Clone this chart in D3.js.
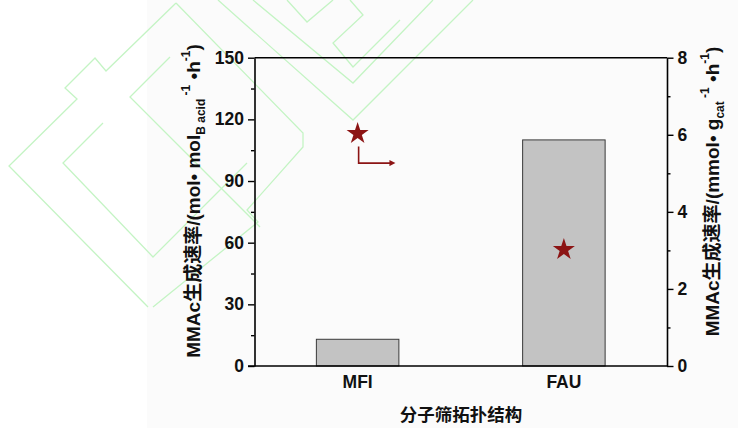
<!DOCTYPE html>
<html>
<head>
<meta charset="utf-8">
<script src="https://cdn.jsdelivr.net/npm/d3@7"></script>
<style>
  html, body { margin: 0; padding: 0; background: #ffffff; }
  svg { display: block; }
  text { font-family: "Liberation Sans", Arial, "Noto Sans CJK SC", sans-serif; font-weight: bold; fill: #111; }
</style>
</head>
<body>
<svg id="chart" width="738" height="428"></svg>
<script>
// Zeolite topology categories and measured MMAc formation rates
const categories = ["MFI", "FAU"];
// rate per mol of Brønsted acid sites (left axis, bars)
const rateAcid = [13, 110];
// rate per gram of catalyst (right axis, stars)
const rateMass = [6.03, 3.02];
const leftTicks = [0, 30, 60, 90, 120, 150];
const rightTicks = [0, 2, 4, 6, 8];

const W = 738, H = 428;
const margin = { left: 254.5, right: W - 667, top: 57.7, bottom: H - 366 };
const svg = d3.select("#chart");

// faint page tint behind the figure
svg.append("rect").attr("x", 147).attr("y", 0).attr("width", W - 147).attr("height", H).attr("fill", "#fbfbfb");

// decorative outline watermark
const wm = svg.append("g").attr("fill", "none").attr("stroke", "#c4f4c4").attr("stroke-width", 1.3).attr("stroke-linejoin", "miter");
const wmPaths = [
  [[176,3],[106,71],[95,58],[65,88],[77,99],[9,166],[148,307]],
  [[176,3],[303,133],[303,147],[247,210],[258,222],[153,307]],
  [[170,57],[130,97],[260,227]],
  [[103,123],[63,163],[153,257],[247,163]],
  [[218,0],[353,120],[473,0]],
  [[253,0],[353,83],[433,0]],
  [[287,0],[307,22],[333,0]],
  [[350,0],[363,15],[333,43],[353,67],[400,20]]
];
wmPaths.forEach(p => wm.append("path").attr("d", d3.line()(p)));

const x = d3.scaleBand().domain(categories)
  .range([margin.left, W - margin.right]).paddingInner(0.6).paddingOuter(0.3);
const yL = d3.scaleLinear().domain([0, 150]).range([H - margin.bottom, margin.top]);
const yR = d3.scaleLinear().domain([0, 8]).range([H - margin.bottom, margin.top]);

// bars
svg.append("g").selectAll("rect").data(categories).join("rect")
  .attr("x", d => x(d))
  .attr("y", (d, i) => yL(rateAcid[i]))
  .attr("width", x.bandwidth())
  .attr("height", (d, i) => yL(0) - yL(rateAcid[i]))
  .attr("fill", "#c3c3c3").attr("stroke", "#3a3a3a").attr("stroke-width", 1);

// axes
const axisStyle = g => {
  g.selectAll("path").attr("stroke", "#000").attr("stroke-width", 1.6);
  g.selectAll("line").attr("stroke", "#000").attr("stroke-width", 1.4);
  g.selectAll("text").attr("font-size", 17.5).attr("font-weight", "bold")
    .attr("font-family", "'Liberation Sans', Arial, sans-serif").attr("fill", "#111");
};

const gL = svg.append("g").attr("transform", `translate(${margin.left},0)`)
  .call(d3.axisLeft(yL).tickValues(leftTicks).tickSize(6.5).tickPadding(4).tickSizeOuter(0));
axisStyle(gL);
svg.append("g").attr("transform", `translate(${margin.left},0)`)
  .call(d3.axisLeft(yL).tickValues(d3.range(15, 150, 30)).tickSize(3.5).tickFormat("").tickSizeOuter(0))
  .call(g => g.select("path").remove()).call(axisStyle);

const gR = svg.append("g").attr("transform", `translate(${W - margin.right},0)`)
  .call(d3.axisRight(yR).tickValues(rightTicks).tickSize(6.5).tickPadding(4).tickSizeOuter(0));
axisStyle(gR);
svg.append("g").attr("transform", `translate(${W - margin.right},0)`)
  .call(d3.axisRight(yR).tickValues(d3.range(1, 8, 2)).tickSize(3.5).tickFormat("").tickSizeOuter(0))
  .call(g => g.select("path").remove()).call(axisStyle);

const gB = svg.append("g").attr("transform", `translate(0,${H - margin.bottom})`)
  .call(d3.axisBottom(x).tickSize(0).tickPadding(10).tickSizeOuter(0));
axisStyle(gB);
gB.select("path").attr("d", `M${margin.left - 6.5},0H${W - margin.right}`);

// top frame
svg.append("line").attr("x1", margin.left).attr("x2", W - margin.right)
  .attr("y1", margin.top).attr("y2", margin.top).attr("stroke", "#000").attr("stroke-width", 1.6);

// stars (right axis)
const starColor = "#8c1414";
svg.append("g").selectAll("path").data(categories).join("path")
  .attr("d", d3.symbol(d3.symbolStar, 151))
  .attr("transform", (d, i) => `translate(${x(d) + x.bandwidth() / 2},${yR(rateMass[i])})`)
  .attr("fill", starColor);

// arrow pointing the star series to the right axis
const cx0 = x(categories[0]) + x.bandwidth() / 2;
const sy0 = yR(rateMass[0]);
svg.append("defs").append("marker").attr("id", "ah")
  .attr("viewBox", "0 0 10 10").attr("refX", 2).attr("refY", 5)
  .attr("markerWidth", 9).attr("markerHeight", 6).attr("markerUnits", "userSpaceOnUse").attr("orient", "auto")
  .append("path").attr("d", "M0,0L10,5L0,10Z").attr("fill", starColor);
svg.append("path")
  .attr("d", `M${cx0 + 1},${sy0 + 13}V${sy0 + 29.5}H${cx0 + 33}`)
  .attr("fill", "none").attr("stroke", starColor).attr("stroke-width", 1.6)
  .attr("marker-end", "url(#ah)");

// axis titles: pieces with optional baseline shift (s) and size (f)
const title = (tx, ty, parts) => {
  const t = svg.append("text").attr("transform", `translate(${tx},${ty}) rotate(-90)`)
    .attr("text-anchor", "middle").attr("font-size", 19)
    .attr("font-family", "'Liberation Sans', Arial, 'Noto Sans CJK SC', sans-serif");
  parts.forEach(p => {
    const s = t.append("tspan").text(p.t);
    if (p.s) s.attr("dy", p.s);
    if (p.f) s.attr("font-size", p.f);
  });
  return t;
};
title(200, 201, [
  { t: "MMAc生成速率/(mol• mol" },
  { t: "B acid", s: 4.5, f: 12 },
  { t: " -1", s: -15, f: 12 },
  { t: " •h", s: 10.5 },
  { t: "-1", s: -10, f: 12 },
  { t: ")", s: 10 }
]);
title(719, 191.5, [
  { t: "MMAc生成速率/(mmol• g" },
  { t: "cat", s: 4.5, f: 12 },
  { t: " -1", s: -15, f: 12 },
  { t: " •h", s: 10.5 },
  { t: "-1", s: -10, f: 12 },
  { t: ")", s: 10 }
]);

svg.append("text").attr("x", 461).attr("y", 421).attr("text-anchor", "middle")
  .attr("font-size", 17.5).attr("font-family", "'Noto Sans CJK SC', sans-serif")
  .text("分子筛拓扑结构");
</script>
</body>
</html>
